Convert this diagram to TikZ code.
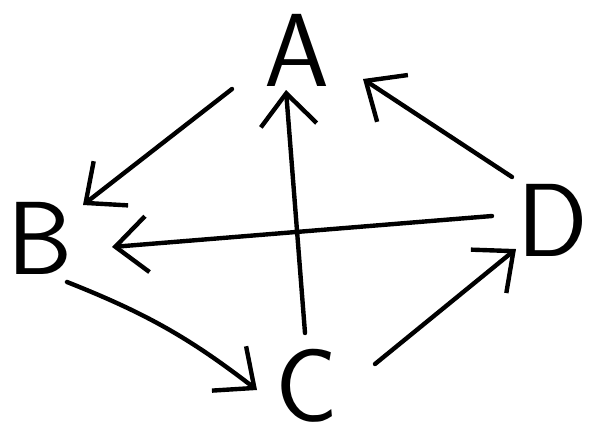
\documentclass[tikz,border=0pt]{standalone}
\usetikzlibrary{arrows.meta}
\begin{document}
\begin{tikzpicture}[x=1pt,y=-1pt,
  lbl/.style={inner sep=0pt,font=\sffamily\fontsize{104}{104}\selectfont},
  arr/.style={line width=4.4pt,line cap=round,-{Straight Barb[length=32pt,width=56pt,line width=4.4pt]}}]
\useasboundingbox (0,0) rectangle (593,440);
\node[lbl] (A) at (297,50) {A};
\node[lbl] (B) at (40,238) {B};
\node[lbl] (C) at (307,386) {C};
\node[lbl] (D) at (553,220) {D};
\draw[arr] ([shift={(-65,39)}]A.center) -- ([shift={(43,-33)}]B.center);
\draw[arr] ([shift={(-2,-53)}]C.center) -- ([shift={(-11,40)}]A.center);
\draw[arr] ([shift={(-41,-43)}]D.center) -- ([shift={(66,29)}]A.center);
\draw[arr] ([shift={(-61,-4)}]D.center) -- ([shift={(72,9)}]B.center);
\draw[arr] ([shift={(27,44)}]B.center) to[bend left=8] ([shift={(-50,4)}]C.center);
\draw[arr] ([shift={(68,-22)}]C.center) -- ([shift={(-37,29)}]D.center);
\end{tikzpicture}
\end{document}
